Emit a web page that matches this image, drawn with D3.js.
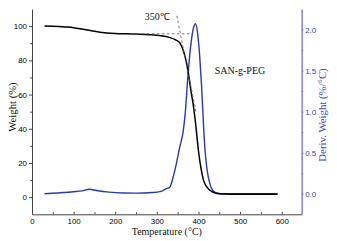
<!DOCTYPE html>
<html>
<head>
<meta charset="utf-8">
<script src="https://cdn.jsdelivr.net/npm/d3@7"></script>
<style>
  body { margin: 0; background: #fff; }
  svg { display: block; }
  .tick text { font-family: 'Liberation Sans', Arial, sans-serif; }
</style>
</head>
<body>
<div id="chart"></div>
<script>
// TGA weight curve (black)
const tempW = [30, 50, 80, 100, 120, 140, 160, 180, 200, 240, 280, 310, 330, 345, 355, 363, 370, 376, 382, 388, 394, 400, 406, 412, 420, 428, 436, 445, 460, 500, 550, 590]
const weight = [100, 99.9, 99.5, 99.1, 98.3, 97.4, 96.5, 96, 95.7, 95.4, 95, 94.4, 93.4, 92, 90.3, 86, 80, 72, 62, 53, 41, 27, 17, 10, 6, 4, 2.8, 2.1, 1.8, 1.7, 1.7, 1.7]

// DTG derivative curve (blue)
const tempD = [30, 60, 100, 120, 138, 155, 185, 220, 250, 290, 310, 322, 331, 339, 347, 355, 363, 368, 375, 383, 388, 393, 398, 403, 407, 411, 415, 419, 423, 427, 431, 437, 443, 455, 520, 590]
const deriv = [0.0, 0.01, 0.025, 0.035, 0.055, 0.04, 0.02, 0.01, 0.008, 0.015, 0.03, 0.06, 0.08, 0.2, 0.37, 0.57, 0.75, 0.97, 1.46, 1.87, 2.02, 2.07, 1.95, 1.67, 1.35, 0.95, 0.58, 0.36, 0.22, 0.13, 0.07, 0.03, 0.01, 0.0, 0.0, 0.0]

// onset construction lines
const baseLine = [[240, 95.5], [378, 95.5]]
const tangentLine = [[348, 106], [394, 50]]

const xTicks = [0, 100, 200, 300, 400, 500, 600]
const yTicks = [0, 20, 40, 60, 80, 100]
const y2Ticks = [0, 0.5, 1.0, 1.5, 2.0]

const width = 337
const height = 241
const margin = { top: 9, right: 35.3, bottom: 26.7, left: 32 }

const blue = '#2b3aa6'
const axisBlue = '#8c8cd0'

const svg = d3.select('#chart').append('svg')
  .attr('width', width)
  .attr('height', height)

// Scales
const x = d3.scaleLinear()
  .domain([0, 648])
  .range([margin.left, width - margin.right])

const y = d3.scaleLinear()
  .domain([-10, 110])
  .range([height - margin.bottom, margin.top])

const y2 = d3.scaleLinear()
  .domain([-0.25, 2.25])
  .range([height - margin.bottom, margin.top])

// Minor ticks first, major ticks on top
svg.append('g')
  .attr('transform', `translate(0, ${height - margin.bottom})`)
  .call(d3.axisBottom(x).tickValues(d3.range(50, 648, 100)).tickSize(-2).tickFormat(''))
  .call(g => g.select('.domain').remove())
  .call(g => g.selectAll('line').attr('stroke', '#444'))

svg.append('g')
  .attr('transform', `translate(0, ${height - margin.bottom})`)
  .call(d3.axisBottom(x).tickValues(xTicks).tickSize(-2.5).tickPadding(4).tickSizeOuter(0))
  .call(g => g.select('.domain').attr('stroke', '#444'))
  .call(g => g.selectAll('line').attr('stroke', '#444'))
  .call(g => g.selectAll('text').attr('font-size', 7.9).attr('fill', '#000'))

svg.append('g')
  .attr('transform', `translate(${margin.left}, 0)`)
  .call(d3.axisLeft(y).tickValues([10, 30, 50, 70, 90]).tickSize(1.8).tickFormat(''))
  .call(g => g.select('.domain').remove())
  .call(g => g.selectAll('line').attr('stroke', '#444'))

svg.append('g')
  .attr('transform', `translate(${margin.left}, 0)`)
  .call(d3.axisLeft(y).tickValues(yTicks).tickSize(3).tickPadding(2).tickSizeOuter(0))
  .call(g => g.select('.domain').attr('stroke', '#444'))
  .call(g => g.selectAll('line').attr('stroke', '#444'))
  .call(g => g.selectAll('text').attr('font-size', 7.9).attr('fill', '#000'))

// Right axis (derivative)
svg.append('g')
  .attr('transform', `translate(${width - margin.right}, 0)`)
  .call(d3.axisRight(y2).tickValues([0.25, 0.75, 1.25, 1.75]).tickSize(1.8).tickFormat(''))
  .call(g => g.select('.domain').remove())
  .call(g => g.selectAll('line').attr('stroke', axisBlue))

svg.append('g')
  .attr('transform', `translate(${width - margin.right}, 0)`)
  .call(d3.axisRight(y2).tickValues(y2Ticks).tickSize(2).tickPadding(1.5).tickSizeOuter(0).tickFormat(d3.format('.1f')))
  .call(g => g.select('.domain').attr('stroke', axisBlue).attr('stroke-width', 1.6))
  .call(g => g.selectAll('line').attr('stroke', axisBlue))
  .call(g => g.selectAll('text').attr('font-size', 7.9).attr('fill', '#3444ae'))

// Curves
const wLine = d3.line()
  .x(d => x(d[0]))
  .y(d => y(d[1]))
  .curve(d3.curveMonotoneX)

const dLine = d3.line()
  .x(d => x(d[0]))
  .y(d => y2(d[1]))
  .curve(d3.curveMonotoneX)

svg.append('path')
  .datum(tempD.map((t, i) => [t, deriv[i]]))
  .attr('d', dLine)
  .attr('fill', 'none')
  .attr('stroke', blue)
  .attr('stroke-width', 1.4)

svg.append('path')
  .datum(tempW.map((t, i) => [t, weight[i]]))
  .attr('d', wLine)
  .attr('fill', 'none')
  .attr('stroke', '#000')
  .attr('stroke-width', 1.5)

// onset dashed lines
const plain = d3.line().x(d => x(d[0])).y(d => y(d[1]))
;[baseLine, tangentLine].forEach(seg => {
  svg.append('path')
    .attr('d', plain(seg))
    .attr('fill', 'none')
    .attr('stroke', '#666')
    .attr('stroke-width', 0.9)
    .attr('stroke-dasharray', '2.5,2.5')
})

// Annotations
svg.append('text')
  .attr('x', x(271))
  .attr('y', y(103.5))
  .attr('font-family', "'Liberation Serif', 'Times New Roman', serif")
  .attr('font-size', 10)
  .attr('fill', '#111')
  .text('350℃')

svg.append('text')
  .attr('x', x(439))
  .attr('y', y2(1.5) + 3)
  .attr('font-family', "'Liberation Serif', 'Times New Roman', serif")
  .attr('font-size', 10)
  .attr('fill', '#111')
  .text('SAN-g-PEG')

// Axis titles
svg.append('text')
  .attr('x', x(324))
  .attr('y', 235)
  .attr('text-anchor', 'middle')
  .attr('font-family', "'Liberation Serif', 'Times New Roman', serif")
  .attr('font-size', 10)
  .attr('fill', '#111')
  .text('Temperature (°C)')

svg.append('text')
  .attr('transform', `translate(16, 107) rotate(-90)`)
  .attr('text-anchor', 'middle')
  .attr('font-family', "'Liberation Serif', 'Times New Roman', serif")
  .attr('font-size', 10.7)
  .attr('fill', '#111')
  .text('Weight (%)')

svg.append('text')
  .attr('transform', `translate(326, 115) rotate(-90)`)
  .attr('text-anchor', 'middle')
  .attr('font-family', "'Liberation Serif', 'Times New Roman', serif")
  .attr('font-size', 10.8)
  .attr('fill', '#3a48b0')
  .text('Deriv. Weight (%/°C)')
</script>
</body>
</html>
